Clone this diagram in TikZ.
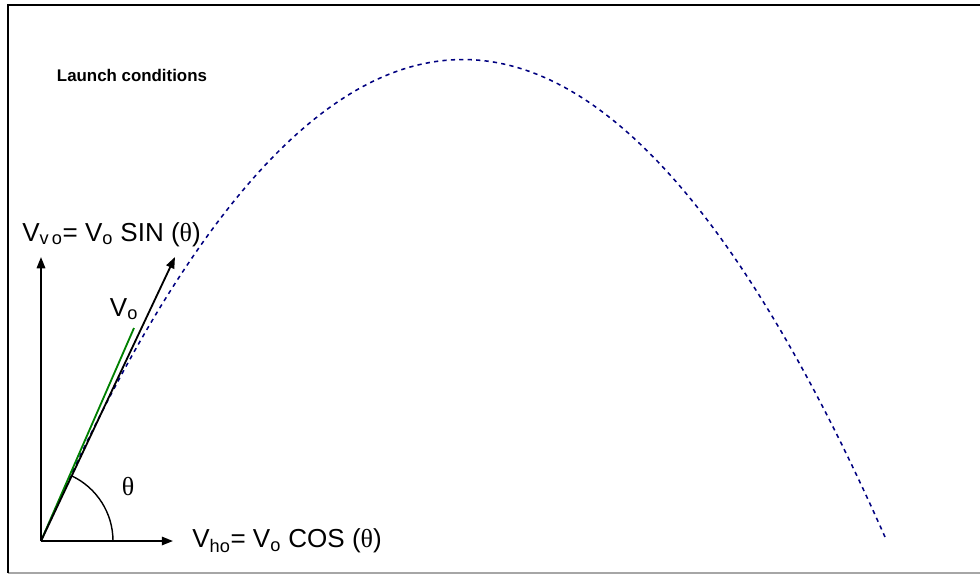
\documentclass[tikz,border=0pt]{standalone}
\usepackage{fontspec}
\setmainfont{Liberation Sans}
\newfontfamily\grk{Liberation Serif}
\usetikzlibrary{arrows.meta}
\definecolor{trajblue}{RGB}{0,0,128}
\definecolor{vgreen}{RGB}{0,128,0}
\newcommand{\ang}{{\grk θ}}

\begin{document}
\begin{tikzpicture}[x=0.025cm, y=-0.025cm,
    vec/.style={line width=1.3pt, -{Triangle[length=8pt,width=6pt]}},
    lbl/.style={font=\fontsize{18.5}{21}\selectfont, inner sep=0pt},
    traj/.style={trajblue, line width=1.1pt, dash pattern=on 3pt off 3pt}]
    \useasboundingbox (0,0) rectangle (980,574);
    % Frame
    \draw[gray!70, line width=1pt] (8,573) -- (980,573);
    \draw[line width=1.4pt] (8,573) -- (8,5) -- (980,5);

    % Trajectory
    \coordinate (O) at (41,541);
    \coordinate (land) at (885,537);
    \draw[traj] (O) .. controls (321.7,-100.3) and (602.3,-100.3) .. (land);

    % Velocity components
    \coordinate (vy) at (41,257);
    \coordinate (vx) at (173,541);
    \coordinate (v) at (175,257);
    \coordinate (g) at (134,328);
    \draw[vgreen, line width=1.3pt] (O) -- (g);
    \draw[vec] (O) -- (vy);
    \draw[vec] (O) -- (vx);
    \draw[vec] (O) -- (v);
    \draw[line width=1pt] (O) ++(72,0) arc[start angle=0, end angle=64.7, radius=1.8cm];

    % Labels
    \node[font=\bfseries\fontsize{12}{14}\selectfont, anchor=base west] (title) at (52,81) {Launch conditions};
    \node[lbl, anchor=base west] (vylbl) at (22,241) {V\textsubscript{v\,o}= V\textsubscript{o} SIN (\ang)};
    \node[lbl, anchor=west] (vxlbl) at (192,541) {V\textsubscript{ho}= V\textsubscript{o} COS (\ang)};
    \node[lbl] (vlbl) at (124,309) {V\textsubscript{o}};
    \node[lbl] (anglbl) at (128,487) {\ang};
\end{tikzpicture}
\end{document}
